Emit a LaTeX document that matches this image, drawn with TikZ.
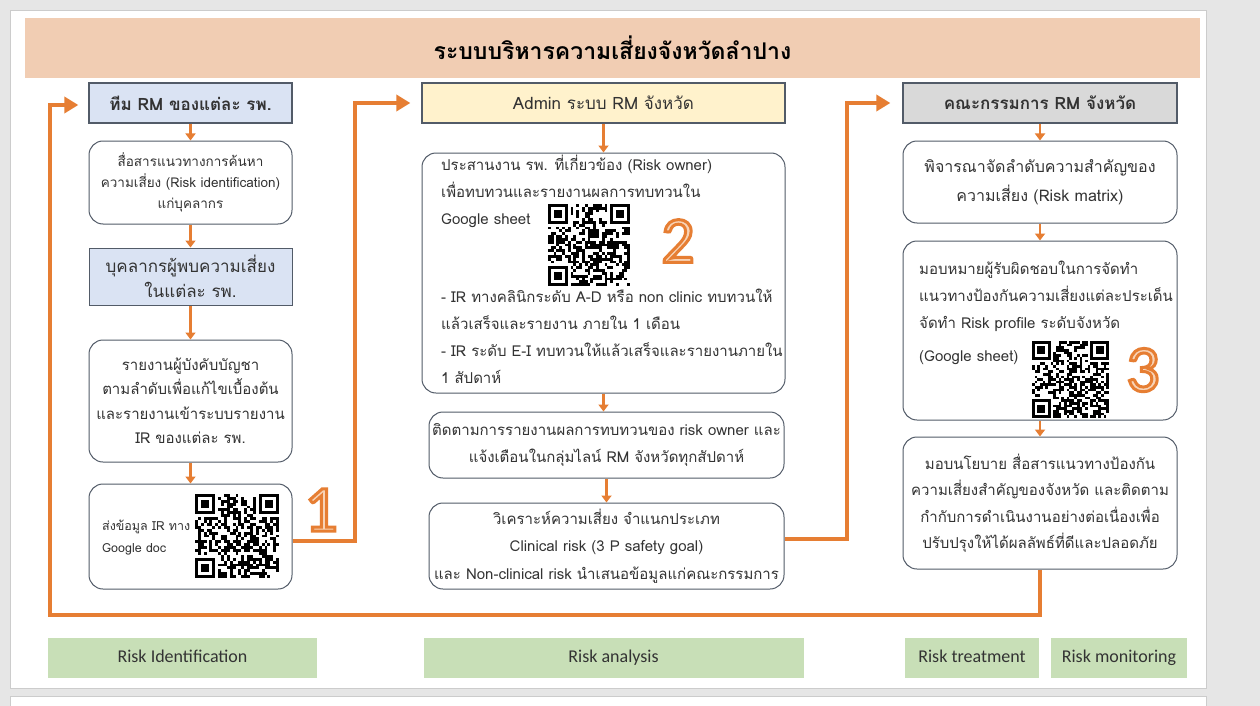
\documentclass[tikz,border=0pt]{standalone}
\usepackage{fontspec}
\setmainfont{Loma}[Script=Thai]
\newfontfamily\labfont{Carlito}
\newfontfamily\numfont{Carlito}
\usetikzlibrary{arrows.meta}
\definecolor{pagegray}{HTML}{E6E6E6}
\definecolor{titlefill}{HTML}{F1CDB3}
\definecolor{hblue}{HTML}{DAE3F3}
\definecolor{hyellow}{HTML}{FFF2CC}
\definecolor{hgray}{HTML}{D9D9D9}
\definecolor{lgreen}{HTML}{C8DFB7}
\definecolor{orng}{HTML}{E67E33}
\definecolor{peach}{HTML}{F8D3B6}
\definecolor{bord}{HTML}{525B68}
\definecolor{txt}{HTML}{333333}
\newcommand{\outnum}[1]{{\color{peach}\special{pdf:literal direct 2 Tr 3 w 0.902 0.494 0.2 RG}#1\special{pdf:literal direct 0 Tr}}}
\newcommand{\qrpat}[4]{%
  \pgfmathsetseed{#4}%
  \pgfmathsetmacro\qm{#3/29}%
  \foreach \i in {0,...,28}{\foreach \j in {0,...,28}{%
    \pgfmathrandominteger{\rr}{0}{1}%
    \ifnum\rr=1 \fill[black] (#1+\i*\qm,#2+\j*\qm) rectangle ++(\qm,\qm);\fi}}%
  \foreach \a/\b/\c/\d in {0/0/0/0,22/0/21/0,0/22/0/21}{%
    \fill[white] (#1+\c*\qm,#2+\d*\qm) rectangle ++(8*\qm,8*\qm);
    \fill[black] (#1+\a*\qm,#2+\b*\qm) rectangle ++(7*\qm,7*\qm);
    \fill[white] (#1+\a*\qm+\qm,#2+\b*\qm+\qm) rectangle ++(5*\qm,5*\qm);
    \fill[black] (#1+\a*\qm+2*\qm,#2+\b*\qm+2*\qm) rectangle ++(3*\qm,3*\qm);}%
}
\tikzset{
  hdr/.style={draw=bord, line width=1.3pt, minimum height=40pt, inner sep=0pt, text=txt, font=\fontsize{17}{20}\selectfont\bfseries},
  rbox/.style={draw=bord, line width=1pt, rounded corners=14pt, fill=white, inner sep=0pt, align=center, text=txt},
  sbox/.style={draw=bord, line width=1pt, inner sep=0pt, align=center, text=txt},
  sarr/.style={draw=orng, line width=2.6pt, -{Triangle[length=7pt,width=10pt]}},
  conn/.style={draw=orng, line width=4pt},
  conna/.style={draw=orng, line width=4pt, -{Triangle[length=14pt,width=16pt]}},
  lab/.style={fill=lgreen, minimum height=40pt, inner sep=0pt, text height=12pt, text depth=4pt, text=txt, font=\labfont\fontsize{18}{20}\selectfont},
  bignum/.style={font=\numfont\fontsize{66}{66}\selectfont, inner sep=0pt},
  ptext/.style={inner sep=0pt, text=txt, align=left}
}
\begin{document}
\begin{tikzpicture}[x=1pt,y=-1pt]
\useasboundingbox (0,0) rectangle (1260,706);
% page background
\fill[pagegray] (0,0) rectangle (1260,706);
\fill[white] (10,10) rectangle (1206,688);
\draw[gray!40, line width=0.8pt] (10,10) rectangle (1206,688);
\fill[white] (10,696) rectangle (1206,706);
\draw[gray!40, line width=0.8pt] (10,706) -- (10,696) -- (1206,696) -- (1206,706);
% title
\node[fill=titlefill, minimum width=1175pt, minimum height=60pt, inner sep=0pt,
  font=\fontsize{23}{26}\selectfont\bfseries, text=black] (title) at (612.5,48) {ระบบบริหารความเสี่ยงจังหวัดลำปาง};
% column 1
\node[hdr, fill=hblue, minimum width=203pt] (h1) at (190.5,103) {ทีม RM ของแต่ละ รพ.};
\node[rbox, minimum width=203pt, minimum height=83pt, font=\fontsize{13.5}{21}\selectfont] (b1) at (190.5,182.5)
  {สื่อสารแนวทางการค้นหา\\ความเสี่ยง (Risk identification)\\แก่บุคลากร};
\node[sbox, fill=hblue, minimum width=203pt, minimum height=57pt, font=\fontsize{17}{25}\selectfont] (b2) at (190.5,276.5)
  {บุคลากรผู้พบความเสี่ยง\\ในแต่ละ รพ.};
\node[rbox, minimum width=203pt, minimum height=122pt, font=\fontsize{15}{24.5}\selectfont] (b3) at (190.5,401)
  {รายงานผู้บังคับบัญชา\\ตามลำดับเพื่อแก้ไขเบื้องต้น\\และรายงานเข้าระบบรายงาน\\IR ของแต่ละ รพ.};
\node[rbox, minimum width=203pt, minimum height=105pt] (b4) at (190.5,536.5) {};
\node[ptext, anchor=west, font=\fontsize{12.5}{22}\selectfont] (b4t) at (102,538) {ส่งข้อมูล IR ทาง\\Google doc};
\qrpat{195}{494}{84}{11}
\node[bignum] (n1) at (321,510) {\outnum{1}};
% column 2
\node[hdr, fill=hyellow, minimum width=363pt] (h2) at (603.5,103) {\mdseries Admin ระบบ RM จังหวัด};
\node[rbox, minimum width=363pt, minimum height=240pt] (c1) at (603.5,273) {};
\node[ptext, anchor=north west, font=\fontsize{15}{27}\selectfont] (c1a) at (441,155) {ประสานงาน รพ. ที่เกี่ยวข้อง (Risk owner)\\เพื่อทบทวนและรายงานผลการทบทวนใน\\Google sheet};
\qrpat{548}{204}{82}{22}
\node[bignum] (n2) at (678,241) {\outnum{2}};
\node[ptext, anchor=north west, font=\fontsize{15}{27}\selectfont] (c1b) at (441,289) {- IR ทางคลินิกระดับ A-D หรือ non clinic ทบทวนให้\\แล้วเสร็จและรายงาน ภายใน 1 เดือน\\- IR ระดับ E-I ทบทวนให้แล้วเสร็จและรายงานภายใน\\1 สัปดาห์};
\node[rbox, minimum width=355pt, minimum height=66pt, font=\fontsize{15}{27}\selectfont] (c2) at (606.5,445)
  {ติดตามการรายงานผลการทบทวนของ risk owner และ\\แจ้งเตือนในกลุ่มไลน์ RM จังหวัดทุกสัปดาห์};
\node[rbox, minimum width=355pt, minimum height=86pt, font=\fontsize{15}{27.5}\selectfont] (c3) at (606.5,546)
  {วิเคราะห์ความเสี่ยง จำแนกประเภท\\Clinical risk (3 P safety goal)\\และ Non-clinical risk นำเสนอข้อมูลแก่คณะกรรมการ};
% column 3
\node[hdr, fill=hgray, minimum width=274pt] (h3) at (1040,103) {คณะกรรมการ RM จังหวัด};
\node[rbox, minimum width=274pt, minimum height=82pt, font=\fontsize{16}{29}\selectfont] (d1) at (1040,182)
  {พิจารณาจัดลำดับความสำคัญของ\\ความเสี่ยง (Risk matrix)};
\node[rbox, minimum width=274pt, minimum height=179pt] (d2) at (1040,330.5) {};
\node[ptext, anchor=north west, font=\fontsize{15}{27}\selectfont] (d2t) at (919,261) {มอบหมายผู้รับผิดชอบในการจัดทำ\\แนวทางป้องกันความเสี่ยงแต่ละประเด็น\\จัดทำ Risk profile ระดับจังหวัด\\[6pt](Google sheet)};
\qrpat{1032}{341}{77}{33}
\node[bignum] (n3) at (1143,370) {\outnum{3}};
\node[rbox, minimum width=274pt, minimum height=132pt, font=\fontsize{15}{26.5}\selectfont] (d3) at (1040,503)
  {มอบนโยบาย สื่อสารแนวทางป้องกัน\\ความเสี่ยงสำคัญของจังหวัด และติดตาม\\กำกับการดำเนินงานอย่างต่อเนื่องเพื่อ\\ปรับปรุงให้ได้ผลลัพธ์ที่ดีและปลอดภัย};
% small arrows
\draw[sarr] (h1.south) -- (b1.north);
\draw[sarr] (b1.south) -- (b2.north);
\draw[sarr] (b2.south) -- (b3.north);
\draw[sarr] (b3.south) -- (b4.north);
\draw[sarr] (h2.south) -- (c1.north);
\draw[sarr] (c1.south) -- (c1.south |- c2.north);
\draw[sarr] (c2.south) -- (c3.north);
\draw[sarr] (h3.south) -- (d1.north);
\draw[sarr] (d1.south) -- (d2.north);
\draw[sarr] (d2.south) -- (d3.north);
% connectors
\coordinate (k1) at (355,541);
\coordinate (k2) at (847,539);
\coordinate (k3) at (50,615);
\draw[conn] (b4.east |- k1) -- (k1) -- (355,103);
\draw[conna, shorten >=11pt] (353,103) -- (h2.west);
\draw[conn] (c3.east |- k2) -- (k2) -- (847,103);
\draw[conna, shorten >=12pt] (845,103) -- (h3.west);
\draw[conn] (d3.south) -- (d3.south |- k3) -- (k3) -- (50,105);
\draw[conna, shorten >=10pt] (48,105) -- (h1.west |- 0,105);
% bottom labels
\node[lab, minimum width=269pt] (l1) at (182.5,658) {Risk Identification};
\node[lab, minimum width=380pt] (l2) at (613.5,658) {Risk analysis};
\node[lab, minimum width=134pt] (l3) at (972,658) {Risk treatment};
\node[lab, minimum width=136pt] (l4) at (1119,658) {Risk monitoring};
\end{tikzpicture}
\end{document}
